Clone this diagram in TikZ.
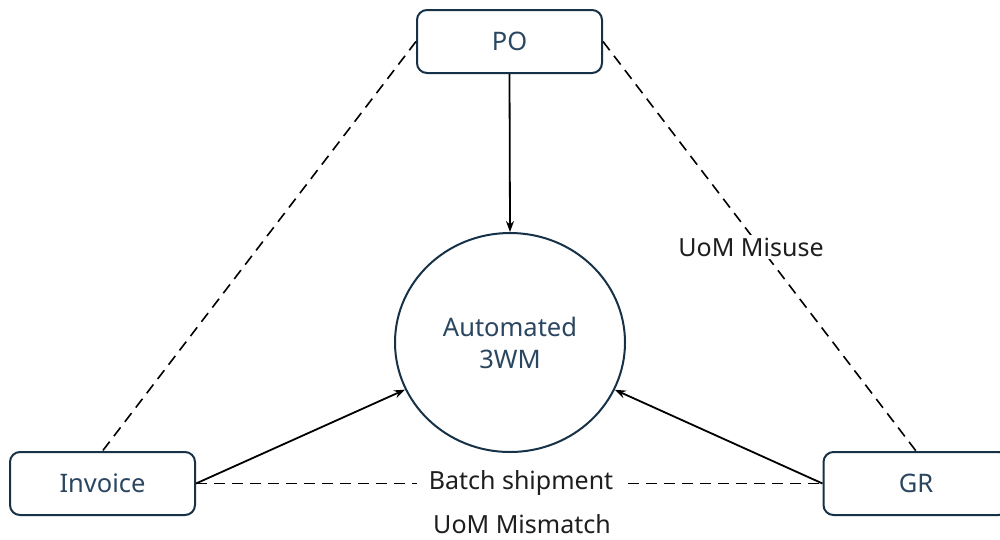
\documentclass[tikz,border=0pt]{standalone}
\usepackage{fontspec}
\setmainfont{Noto Sans}
\usetikzlibrary{shapes.geometric,arrows.meta}
\definecolor{nodeborder}{HTML}{173247}
\definecolor{nodetext}{HTML}{2B4660}
\definecolor{labeltext}{HTML}{1E1E1E}
\begin{document}
\begin{tikzpicture}[x=1pt,y=-1pt,
  boxnode/.style={draw=nodeborder,line width=2pt,rounded corners=10pt,minimum width=185pt,minimum height=63pt,inner sep=0pt,text=nodetext,font=\fontsize{25.5}{29}\selectfont},
  hubnode/.style={ellipse,draw=nodeborder,line width=2pt,minimum width=230pt,minimum height=219pt,inner sep=0pt,text=nodetext,font=\fontsize{25.5}{32}\selectfont,align=center},
  lbl/.style={text=labeltext,font=\fontsize{25}{29}\selectfont,inner sep=3pt},
  dashline/.style={draw=black,line width=1.6pt,dash pattern=on 11pt off 7pt},
  arrowline/.style={draw=black,line width=1.8pt,-{Stealth[length=11pt,width=8pt]}}
]
\useasboundingbox (0,0) rectangle (1000,539);
\clip (0,0) rectangle (1000,539);
\fill[white] (0,0) rectangle (1000,539);
\node[boxnode] (po) at (509.5,41.5) {PO};
\node[boxnode] (inv) at (102.5,483.5) {Invoice};
\node[boxnode] (gr) at (916,483.5) {GR};
\node[hubnode] (auto) at (510,342.5) {Automated\\3WM};
\draw[dashline] (po.west) -- (inv.north);
\draw[dashline] (po.east) -- (gr.north);
\draw[dashline] (inv.east) -- (gr.west);
\node[lbl,fill=white,inner xsep=12pt] (batch) at (521,483) {Batch shipment};
\node[lbl] (mismatch) at (522,524) {UoM Mismatch};
\node[lbl,fill=white] (misuse) at (751,247) {UoM Misuse};
\draw[arrowline] (po.south) -- (auto.north);
\draw[arrowline] (inv.east) -- (auto);
\draw[arrowline] (gr.west) -- (auto);
\end{tikzpicture}
\end{document}
